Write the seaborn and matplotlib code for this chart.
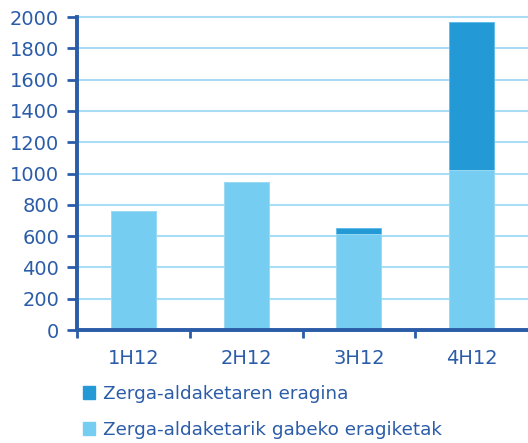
import numpy as np
import pandas as pd
import matplotlib
matplotlib.use("Agg")
import matplotlib.pyplot as plt
import matplotlib.patches as mpatches
import seaborn as sns

periods = ["1H12", "2H12", "3H12", "4H12"]
base_ops = [758, 948, 611, 1020]        # Zerga-aldaketarik gabeko eragiketak
tax_effect = [0, 0, 39, 948]            # Zerga-aldaketaren eragina
legend_labels = ["Zerga-aldaketaren eragina", "Zerga-aldaketarik gabeko eragiketak"]

LIGHT = "#76cdf2"
DARK = "#239ad6"
NAVY = "#2b5ca8"
GRID = "#a9ddf5"

sns.set_style("white")
plt.rcParams["font.family"] = ["DejaVu Sans"]

df = pd.DataFrame({"period": periods, "base": base_ops,
                   "total": np.array(base_ops) + np.array(tax_effect)})

fig = plt.figure(figsize=(5.28, 4.43), dpi=100)
ax = fig.add_axes([0.146, 0.255, 0.854, 0.7065])

ax.set_axisbelow(True)
ax.yaxis.grid(True, color=GRID, lw=1.5)

sns.barplot(data=df, x="period", y="total", color=DARK, width=0.4,
            saturation=1, edgecolor="#5bbbe8", linewidth=0.6, ax=ax)
sns.barplot(data=df, x="period", y="base", color=LIGHT, width=0.4,
            saturation=1, edgecolor="#a6def7", linewidth=0.6, ax=ax)

ax.set_xlim(-0.5, 3.5)
ax.set_ylim(0, 2000)
ax.set_yticks(range(0, 2001, 200))
ax.set_xlabel("")
ax.set_ylabel("")
for gl in ax.get_ygridlines():
    gl.set_clip_on(False)

for side in ["top", "right"]:
    ax.spines[side].set_visible(False)
for side in ["left", "bottom"]:
    ax.spines[side].set_color(NAVY)
    ax.spines[side].set_linewidth(2.8)

ax.tick_params(axis="y", left=True, length=7, width=2, color=NAVY,
               labelcolor=NAVY, labelsize=14, pad=6)
ax.tick_params(axis="x", which="major", bottom=False, length=0,
               labelcolor=NAVY, labelsize=14, pad=14)
ax.set_xticks([-0.5, 0.5, 1.5, 2.5], minor=True)
ax.tick_params(axis="x", which="minor", bottom=True, length=6, width=2,
               color=NAVY)

handles = [mpatches.Patch(color=DARK), mpatches.Patch(color=LIGHT)]
leg = fig.legend(handles, legend_labels, loc="upper left",
                 bbox_to_anchor=(0.143, 0.148), frameon=False,
                 fontsize=13.2, handlelength=0.65, handleheight=0.7,
                 handletextpad=0.45, labelspacing=1.0, borderaxespad=0)
for t in leg.get_texts():
    t.set_color(NAVY)

fig.savefig("out.png", dpi=100)
